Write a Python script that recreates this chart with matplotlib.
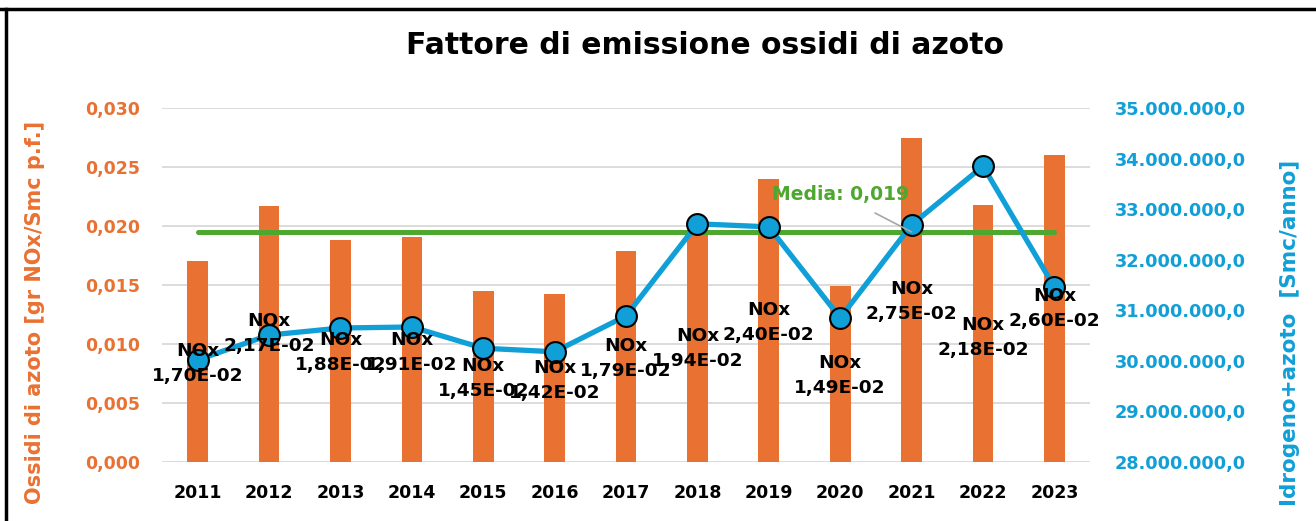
import numpy as np
import matplotlib
matplotlib.use("Agg")
import matplotlib.pyplot as plt
from matplotlib.ticker import FuncFormatter, MultipleLocator
from matplotlib.lines import Line2D

# data
years = ["2011", "2012", "2013", "2014", "2015", "2016", "2017",
         "2018", "2019", "2020", "2021", "2022", "2023"]
nox_factor = [0.0170, 0.0217, 0.0188, 0.0191, 0.0145, 0.0142, 0.0179,
              0.0194, 0.0240, 0.0149, 0.0275, 0.0218, 0.0260]
volume_mln = [30.02, 30.51, 30.65, 30.67, 30.25, 30.18, 30.89,
              32.71, 32.65, 30.85, 32.69, 33.85, 31.46]
media = 0.0195
media_text = "Media: 0,019"

# where the data labels sit (left axis units)
label_y = [0.00831, 0.01085, 0.00932, 0.00932, 0.00712, 0.00695, 0.00881,
           0.00958, 0.01186, 0.00729, 0.01364, 0.01059, 0.01297]

ORANGE = "#E97132"
BLUE = "#119FD7"
GREEN = "#4EA72E"

plt.rcParams["font.family"] = "DejaVu Sans"

fig = plt.figure(figsize=(13.16, 5.21), dpi=100)
ax = fig.add_axes([0.1231, 0.1132, 0.7052, 0.6795])
ax2 = ax.twinx()

x = np.arange(len(years))

# ------------------ bars + mean line (left axis) ------------------
ax.bar(x, nox_factor, width=0.29, color=ORANGE, zorder=2)
ax.plot([x[0], x[-1]], [media, media], color=GREEN, lw=3.6, zorder=3,
        solid_capstyle="round")

ax.set_xlim(-0.5, len(years) - 0.5)
ax.set_ylim(0, 0.030)
ax.yaxis.set_major_locator(MultipleLocator(0.005))
ax.yaxis.set_major_formatter(FuncFormatter(lambda v, p: ("%.3f" % v).replace(".", ",")))
ax.grid(axis="y", color="#D9D9D9", lw=1.3, zorder=0)
ax.set_axisbelow(True)
ax.set_xticks(x)
ax.set_xticklabels(years, fontsize=12.5, fontweight="bold", color="black")
ax.tick_params(axis="x", length=0, pad=16)
ax.tick_params(axis="y", length=0, pad=16, labelsize=12.5, labelcolor=ORANGE)
for t in ax.get_yticklabels():
    t.set_fontweight("bold")
for s in ax.spines.values():
    s.set_visible(False)

# ------------------ volume line (right axis) ------------------
ax2.plot(x, volume_mln, color=BLUE, lw=3.8, marker="o", markersize=15,
         markerfacecolor=BLUE, markeredgecolor="black", markeredgewidth=1.5, zorder=4)
ax2.set_ylim(28, 35)
ax2.yaxis.set_major_locator(MultipleLocator(1))
ax2.yaxis.set_major_formatter(FuncFormatter(
    lambda v, p: "{:,.1f}".format(v * 1e6).replace(",", "X").replace(".", ",").replace("X", ".")))
ax2.tick_params(axis="y", length=0, pad=18, labelsize=12.8, labelcolor=BLUE)
for t in ax2.get_yticklabels():
    t.set_fontweight("bold")
for s in ax2.spines.values():
    s.set_visible(False)

# data labels "NOx / value" drawn on top of everything
for i, v in enumerate(nox_factor):
    txt = "NOx\n" + ("%.2E" % v).replace(".", ",")
    ax2.text(x[i], label_y[i], txt, transform=ax.transData, ha="center", va="center",
             fontsize=13.3, fontweight="bold", color="black", linespacing=1.5, zorder=6)

# mean label with leader line
ax2.annotate(media_text, xy=(10.0, media), xycoords=ax.transData,
             xytext=(9.0, 0.02263), textcoords=ax.transData,
             ha="center", va="center", fontsize=13.5, fontweight="bold", color=GREEN,
             arrowprops=dict(arrowstyle="-", color="#A6A6A6", lw=1.2,
                             shrinkA=9, shrinkB=0), zorder=6)

# titles
fig.text(0.536, 0.912, "Fattore di emissione ossidi di azoto", ha="center", va="center",
         fontsize=21.5, fontweight="bold", color="black")
fig.text(0.0266, 0.40, "Ossidi di azoto [gr NOx/Smc p.f.]", rotation=90,
         ha="center", va="center", fontsize=15, fontweight="bold", color=ORANGE)
fig.text(0.980, 0.362, "Idrogeno+azoto  [Smc/anno]", rotation=90,
         ha="center", va="center", fontsize=15.5, fontweight="bold", color=BLUE)

# partial black frame (top and left edge)
fig.add_artist(Line2D([0.0, 1.0], [0.983, 0.983], transform=fig.transFigure,
                      color="black", lw=2.5))
fig.add_artist(Line2D([0.0045, 0.0045], [0.0, 0.983], transform=fig.transFigure,
                      color="black", lw=2.5))

fig.savefig("out.png", dpi=100)
